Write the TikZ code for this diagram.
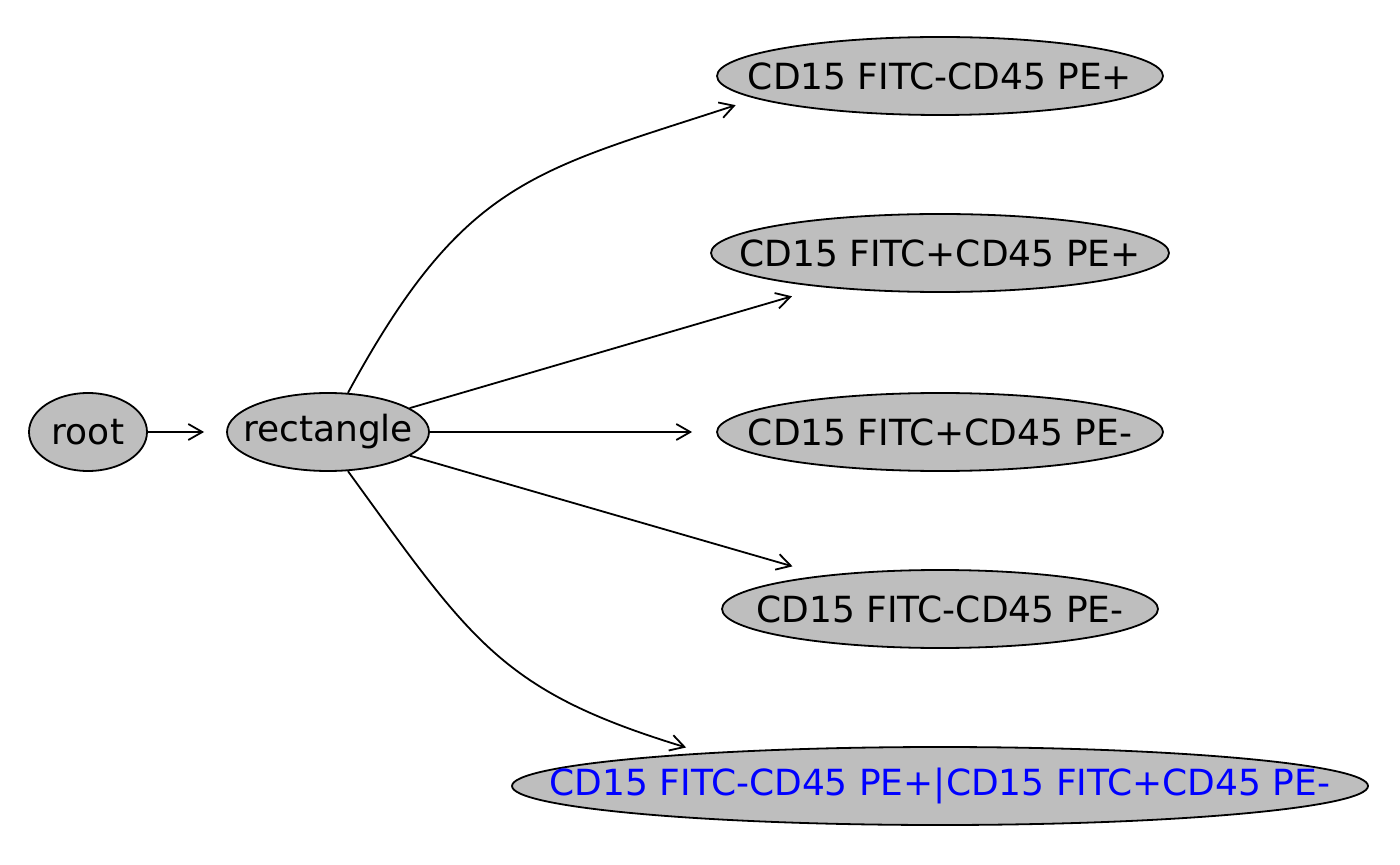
\documentclass[tikz,border=0pt]{standalone}
\usepackage{fontspec}
\setmainfont{DejaVu Sans}
\usetikzlibrary{shapes.geometric,arrows.meta}

\newcommand{\gatetext}[1]{\makebox[0pt]{#1}}

\begin{document}
\begin{tikzpicture}[x=0.5pt,y=-0.5pt,>={Straight Barb[length=7pt,width=8pt]},
  gate/.style={shape=ellipse,draw,line width=0.9pt,fill={rgb,255:red,190;green,190;blue,190},
    inner sep=0pt,minimum height=39pt,font=\fontsize{18}{21}\selectfont},
  edge/.style={->,line width=0.9pt}]

  \useasboundingbox (0,0) rectangle (1400,865);

  \node (root) at (88,432)  [gate,minimum width=59pt] {\gatetext{root}};
  \node (rect) at (328,432) [gate,minimum width=101pt] {\gatetext{rectangle}};
  \node (n1) at (940,76)  [gate,minimum width=223pt] {\gatetext{CD15 FITC-CD45 PE+}};
  \node (n2) at (940,253) [gate,minimum width=229pt] {\gatetext{CD15 FITC+CD45 PE+}};
  \node (n3) at (940,432) [gate,minimum width=223pt] {\gatetext{CD15 FITC+CD45 PE-}};
  \node (n4) at (940,609) [gate,minimum width=218pt] {\gatetext{CD15 FITC-CD45 PE-}};
  \node (n5) at (940,786) [gate,minimum width=428pt,text=blue] {\gatetext{CD15 FITC-CD45 PE+|CD15 FITC+CD45 PE-}};

  \draw [edge,shorten >=11pt] (root) -- (rect);
  \draw [edge,shorten >=10.5pt] (rect.63) .. controls (464,179) and (535,171) .. (n1.187);
  \draw [edge,shorten >=16pt] (rect) -- (n2);
  \draw [edge,shorten >=12pt] (rect) -- (n3);
  \draw [edge,shorten >=16pt] (rect) -- (n4);
  \draw [edge,shorten >=9pt] (rect.-63) .. controls (472,642) and (501,691) .. (n5.172);

\end{tikzpicture}
\end{document}
